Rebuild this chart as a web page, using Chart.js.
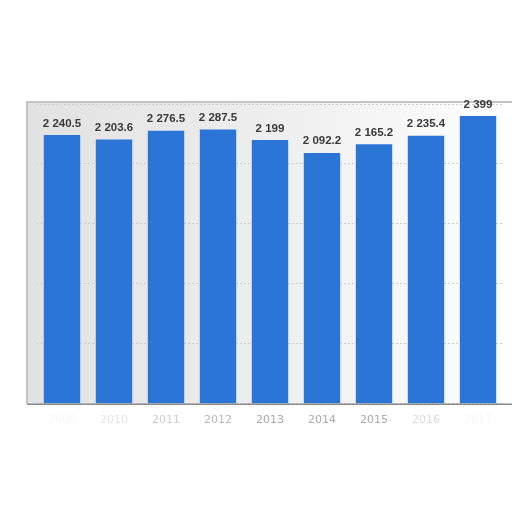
<!DOCTYPE html>
<html>
<head>
<meta charset="utf-8">
<script src="https://cdn.jsdelivr.net/npm/chart.js@4/dist/chart.umd.min.js"></script>
<style>
  html, body { margin: 0; padding: 0; background: #fff; overflow: hidden; }
</style>
</head>
<body>
<canvas id="bars" width="512" height="512"></canvas>
<script>
const years = ['2009', '2010', '2011', '2012', '2013', '2014', '2015', '2016', '2017']
const values = [2240.5, 2203.6, 2276.5, 2287.5, 2199, 2092.2, 2165.2, 2235.4, 2399]
const yTicks = [0, 500, 1000, 1500, 2000, 2500]

// the outer labels are washed out in the picture
const tickColors = ['#f6f6f6', '#e4e4e4', '#cccccc', '#b8b8b8', '#aaaaaa', '#aaaaaa', '#aaaaaa', '#dadada', '#f6f6f6']

function fmt(v) {
    let parts = String(v).split('.')
    parts[0] = parts[0].replace(/\B(?=(\d{3})+(?!\d))/g, ' ')
    return parts.join('.')
}

// grey frame round the plot, like the screenshot
const frame = {
    id: 'frame',
    beforeDraw(chart) {
        let ctx = chart.ctx, a = chart.chartArea
        let g = ctx.createLinearGradient(27, 0, 512, 0)
        g.addColorStop(0, '#e2e2e2')
        g.addColorStop(0.5, '#eeeeee')
        g.addColorStop(1, '#ffffff')
        ctx.save()
        ctx.fillStyle = g
        ctx.fillRect(27, a.top - 2, 512 - 27, a.bottom - a.top + 2)
        ctx.strokeStyle = '#c4c4c4'
        ctx.lineWidth = 2
        ctx.beginPath()
        ctx.moveTo(27, a.bottom)
        ctx.lineTo(27, a.top - 2)
        ctx.lineTo(512, a.top - 2)
        ctx.stroke()
        ctx.restore()
    },
    afterDatasetsDraw(chart) {
        let ctx = chart.ctx, a = chart.chartArea
        ctx.save()
        ctx.strokeStyle = '#8a8a8a'
        ctx.lineWidth = 1.5
        ctx.beginPath()
        ctx.moveTo(27, a.bottom + 0.5)
        ctx.lineTo(512, a.bottom + 0.5)
        ctx.stroke()
        ctx.fillStyle = '#3a3a3a'
        ctx.font = 'bold 11.5px "Liberation Sans", Arial, sans-serif'
        ctx.textAlign = 'center'
        ctx.textBaseline = 'bottom'
        chart.getDatasetMeta(0).data.forEach((bar, i) => {
            ctx.fillText(fmt(values[i]), bar.x, bar.y - 6)
        })
        ctx.restore()
    }
}

window.onload = function () {
    let context = document.querySelector('#bars').getContext('2d')
    new Chart(context, {
        type: 'bar',
        data: {
            labels: years,
            datasets: [{
                data: values,
                backgroundColor: '#2a75d6',
                categoryPercentage: 0.7,
                barPercentage: 1.0,
            }],
        },
        options: {
            responsive: false,
            animation: false,
            layout: { padding: { left: 36, right: 8, top: 104, bottom: 83 } },
            plugins: { legend: { display: false }, tooltip: { enabled: false } },
            scales: {
                x: {
                    grid: { display: false },
                    border: { display: false },
                    ticks: {
                        color: ctx => tickColors[ctx.index],
                        font: { size: 11, family: '"DejaVu Sans", sans-serif' },
                        padding: 2,
                    },
                },
                y: {
                    min: 0,
                    max: 2500,
                    afterBuildTicks: axis => { axis.ticks = yTicks.map(v => ({ value: v })) },
                    ticks: { display: false },
                    border: { display: false, dash: [2, 2] },
                    grid: { color: '#cccccc', lineWidth: 1, drawTicks: false },
                },
            },
        },
        plugins: [frame],
    })
}
</script>
</body>
</html>
